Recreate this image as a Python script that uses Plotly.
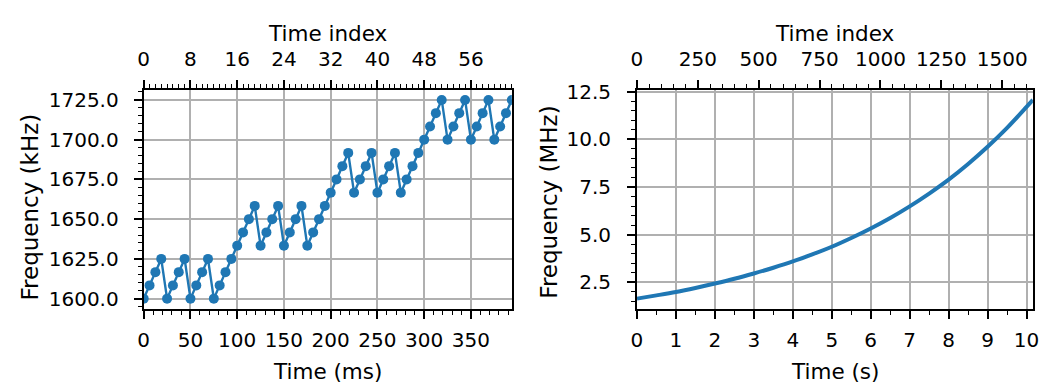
import plotly.graph_objects as go

# ---- data: stepped frequency schedule (first 64 samples) ----
sample_period_ms = 6.25
fine_index = list(range(64))
fine_freq_khz = [
    1600.00, 1608.33, 1616.67, 1625.00, 1600.00, 1608.33, 1616.67, 1625.00,
    1600.00, 1608.33, 1616.67, 1625.00, 1600.00, 1608.33, 1616.67, 1625.00,
    1633.33, 1641.67, 1650.00, 1658.33, 1633.33, 1641.67, 1650.00, 1658.33,
    1633.33, 1641.67, 1650.00, 1658.33, 1633.33, 1641.67, 1650.00, 1658.33,
    1666.67, 1675.00, 1683.33, 1691.67, 1666.67, 1675.00, 1683.33, 1691.67,
    1666.67, 1675.00, 1683.33, 1691.67, 1666.67, 1675.00, 1683.33, 1691.67,
    1700.00, 1708.33, 1716.67, 1725.00, 1700.00, 1708.33, 1716.67, 1725.00,
    1700.00, 1708.33, 1716.67, 1725.00, 1700.00, 1708.33, 1716.67, 1725.00,
]
fine_time_ms = [i * sample_period_ms for i in fine_index]

# ---- data: full sweep, sampled every 0.5 s ----
full_time_s = [0.0, 0.5, 1.0, 1.5, 2.0, 2.5, 3.0, 3.5, 4.0, 4.5, 5.0,
               5.5, 6.0, 6.5, 7.0, 7.5, 8.0, 8.5, 9.0, 9.5, 10.0, 10.1625]
full_freq_mhz = [1.65, 1.82, 2.00, 2.21, 2.44, 2.69, 2.97, 3.27, 3.60, 3.97, 4.37,
                 4.83, 5.33, 5.88, 6.49, 7.16, 7.89, 8.71, 9.61, 10.60, 11.70, 12.07]
full_index_max = 1626

BLUE = "#1f77b4"
GRID = "#b0b0b0"
FONT = "DejaVu Sans"
TICK_SIZE = 20
TITLE_SIZE = 21.5
YTITLE_SIZE = 23

W, H = 1046, 392
def px_x(v):
    return v / W
def px_y(v):
    return 1 - v / H

left_dom = [px_x(139.3), px_x(511.7)]
right_dom = [px_x(638.3), px_x(1038.8)]
y_dom = [px_y(308.0), px_y(82.5)]

fig = go.Figure()

fig.add_trace(go.Scatter(
    x=fine_time_ms, y=fine_freq_khz, mode="lines+markers",
    line=dict(color=BLUE, width=2.4), marker=dict(color=BLUE, size=10),
    xaxis="x", yaxis="y", showlegend=False))
# anchors the secondary (index) axis on top
fig.add_trace(go.Scatter(
    x=[fine_index[0], fine_index[-1]], y=[fine_freq_khz[0], fine_freq_khz[-1]],
    mode="markers", marker=dict(opacity=0), hoverinfo="skip",
    xaxis="x2", yaxis="y", showlegend=False))

fig.add_trace(go.Scatter(
    x=full_time_s, y=full_freq_mhz, mode="lines",
    line=dict(color=BLUE, width=4, shape="spline"),
    xaxis="x3", yaxis="y2", showlegend=False))
fig.add_trace(go.Scatter(
    x=[0, full_index_max], y=[full_freq_mhz[0], full_freq_mhz[-1]],
    mode="markers", marker=dict(opacity=0), hoverinfo="skip",
    xaxis="x4", yaxis="y2", showlegend=False))

common = dict(
    ticks="outside", ticklen=8, tickwidth=1.6, tickcolor="black",
    showline=True, linecolor="black", linewidth=2, zeroline=False,
    tickfont=dict(family=FONT, size=TICK_SIZE, color="black"),
)
minor_style = dict(ticks="outside", ticklen=4, tickwidth=1.3, tickcolor="black", showgrid=False)

y_lo = 1600 - 0.05 * 125
y_hi = 1725 + 0.05 * 125
f_rng = full_freq_mhz[-1] - full_freq_mhz[0]

fig.update_layout(
    width=W, height=H, margin=dict(l=0, r=0, t=0, b=0),
    plot_bgcolor="white", paper_bgcolor="white",
    xaxis=dict(domain=left_dom, anchor="y", range=[0, fine_time_ms[-1]],
               tick0=0, dtick=50, showgrid=True, gridcolor=GRID, gridwidth=1.8,
               ticklabelstandoff=4,
               minor=dict(dtick=10, **minor_style), **common),
    xaxis2=dict(overlaying="x", side="top", anchor="y", range=[0, fine_index[-1]],
                tick0=0, dtick=8, showgrid=False, ticklabelstandoff=6,
                minor=dict(dtick=1, **minor_style), **common),
    yaxis=dict(domain=y_dom, anchor="x", range=[y_lo, y_hi], tick0=1600, dtick=25,
               tickformat=".1f", showgrid=True, gridcolor=GRID, gridwidth=1.8,
               ticklabelstandoff=11,
               mirror=True, minor=dict(dtick=5, **minor_style), **common),
    xaxis3=dict(domain=right_dom, anchor="y2", range=[0, full_time_s[-1]],
                tick0=0, dtick=1, showgrid=True, gridcolor=GRID, gridwidth=1.8,
                ticklabelstandoff=4,
                minor=dict(dtick=0.5, **minor_style), **common),
    xaxis4=dict(overlaying="x3", side="top", anchor="y2", range=[0, full_index_max],
                tick0=0, dtick=250, showgrid=False, ticklabelstandoff=6,
                minor=dict(dtick=50, **minor_style), **common),
    yaxis2=dict(domain=y_dom, anchor="x3",
                range=[full_freq_mhz[0] - 0.05 * f_rng, full_freq_mhz[-1] + 0.05 * f_rng],
                tick0=2.5, dtick=2.5, tickformat=".1f", showgrid=True, gridcolor=GRID,
                gridwidth=1.8, mirror=True, ticklabelstandoff=12,
                minor=dict(dtick=0.5, **minor_style), **common),
)

def label(text, x, y, xref="paper", angle=0, size=TITLE_SIZE):
    fig.add_annotation(text=text, x=x, y=y, xref=xref, yref="paper", showarrow=False,
                       textangle=angle, xanchor="center", yanchor="middle",
                       font=dict(family=FONT, size=size, color="black"))

label("Time index", 0.5, px_y(24), xref="x domain")
label("Time (ms)", 0.5, px_y(373), xref="x domain")
label("Frequency (kHz)", px_x(24), px_y(203), angle=-90, size=YTITLE_SIZE)
label("Time index", 0.5, px_y(24), xref="x3 domain")
label("Time (s)", 0.5, px_y(373), xref="x3 domain")
label("Frequency (MHz)", px_x(549), px_y(198), angle=-90, size=YTITLE_SIZE)

fig.write_html("out.html")
